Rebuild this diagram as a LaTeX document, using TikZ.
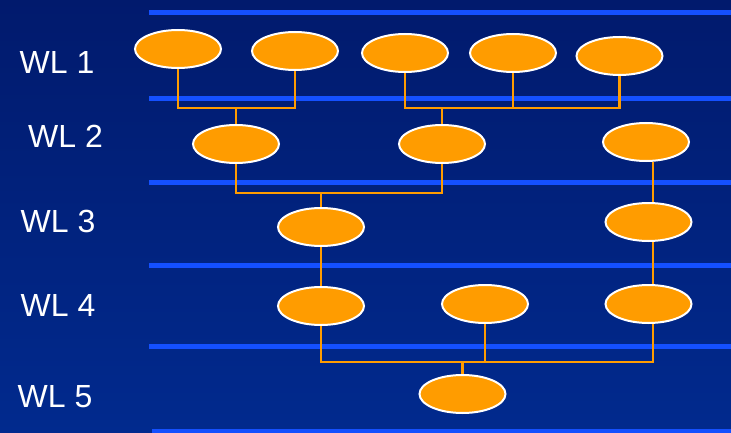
\documentclass[tikz,border=0pt]{standalone}
\usepackage{fontspec}
\setmainfont{Liberation Sans}
\usetikzlibrary{shapes.geometric}
\definecolor{bgtop}{HTML}{011A6D}
\definecolor{bgbot}{HTML}{012A8E}
\definecolor{wlline}{HTML}{1450FF}
\definecolor{nodeorange}{HTML}{FF9C00}
\tikzset{
  tnode/.style={ellipse, fill=nodeorange, draw=white, line width=2pt,
    minimum width=86pt, minimum height=38pt, inner sep=0pt},
  wl/.style={draw=wlline, line width=5pt},
  conn/.style={draw=nodeorange, line width=2.2pt},
  wllabel/.style={text=white, inner sep=0pt, font=\fontsize{32}{38}\selectfont}
}
\begin{document}
\begin{tikzpicture}[x=1pt,y=-1pt]
\useasboundingbox (0,0) rectangle (731,433);
\shade[top color=bgtop, bottom color=bgbot] (0,0) rectangle (731,433);
% level lines
\draw[wl] (149,13) -- (731,13);
\draw[wl] (149,98.7) -- (731,98.7);
\draw[wl] (149,182) -- (731,182);
\draw[wl] (149,265.3) -- (731,265.3);
\draw[wl] (149,346.7) -- (731,346.7);
\draw[wl] (152,431.5) -- (731,431.5);
% labels
\node[wllabel] (l1) at (57,62) {WL 1};
\node[wllabel] (l2) at (65.5,136) {WL 2};
\node[wllabel] (l3) at (58,221.5) {WL 3};
\node[wllabel] (l4) at (58,305.3) {WL 4};
\node[wllabel] (l5) at (55,396.3) {WL 5};
% nodes
\node[tnode] (e1) at (178,49) {};
\node[tnode] (e2) at (295,51) {};
\node[tnode] (e3) at (405,53) {};
\node[tnode] (e4) at (513,53) {};
\node[tnode] (e5) at (619.5,56) {};
\node[tnode] (e6) at (236,144) {};
\node[tnode] (e7) at (442,144) {};
\node[tnode] (e8) at (646,142) {};
\node[tnode] (e13) at (321,227) {};
\node[tnode] (e9) at (648.5,222) {};
\node[tnode] (e14) at (321,306) {};
\node[tnode] (e11) at (485,304) {};
\node[tnode] (e10) at (648.5,304) {};
\node[tnode] (e12) at (462.5,394) {};
% junctions
\coordinate (j1) at (236,108.3);
\coordinate (j2) at (442,108.3);
\coordinate (j3) at (321,192.7);
\coordinate (j4) at (462.5,361.7);
% connectors
\draw[conn] (e1.south) |- (j1) -| (e2.south);
\draw[conn] (j1) -- (e6.north);
\draw[conn] (e3.south) |- (j2) -| (e5.south);
\draw[conn] (e4.south) -- (e4.south |- j2);
\draw[conn] (j2) -- (e7.north);
\draw[conn] (e6.south) |- (j3) -| (e7.south);
\draw[conn] (j3) -- (e13.north);
\draw[conn] ([xshift=6.7pt]e8.south) -- ([xshift=4.2pt]e9.north);
\draw[conn] (e13.south) -- (e14.north);
\draw[conn] ([xshift=4.2pt]e9.south) -- ([xshift=4.2pt]e10.north);
\draw[conn] (e14.south) |- (j4) -| ([xshift=4.2pt]e10.south);
\draw[conn] (e11.south) -- (e11.south |- j4);
\draw[conn] (j4) -- (e12.north);
\end{tikzpicture}
\end{document}
